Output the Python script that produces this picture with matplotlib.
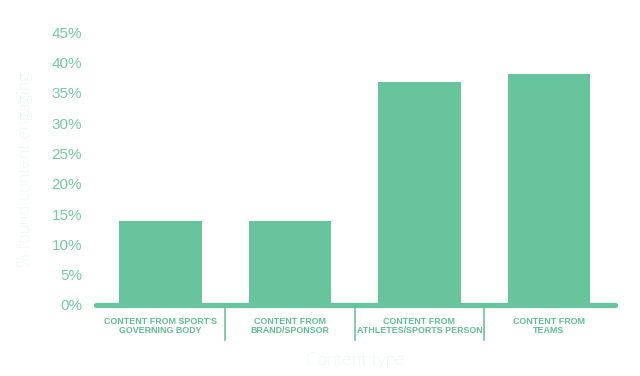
import matplotlib
matplotlib.use("Agg")
import matplotlib.pyplot as plt
import matplotlib.transforms as mtransforms

categories = ["CONTENT FROM SPORT'S\nGOVERNING BODY", "CONTENT FROM\nBRAND/SPONSOR",
              "CONTENT FROM\nATHLETES/SPORTS PERSON", "CONTENT FROM\nTEAMS"]
values = [13.8, 13.8, 36.8, 38.2]
yticks = [0, 5, 10, 15, 20, 25, 30, 35, 40, 45]
ytick_labels = [f"{t}%" for t in yticks]

BAR = "#68c49c"
TICK = "#74caa2"
CAT = "#5fbf93"
LIGHT = "#b2e3cc"

fig = plt.figure(figsize=(6.4, 3.76), dpi=100)
W, H = 640, 376
x0, x1 = 93.2, 617.6
y0, y1 = 305, 32.3
ax = fig.add_axes([x0 / W, (H - y0) / H, (x1 - x0) / W, (y0 - y1) / H])
ax.set_xlim(-0.52, 3.53)
ax.set_ylim(0, 45)

xs = list(range(len(categories)))
ax.bar(xs, values, width=0.64, color=BAR, zorder=2)
ax.plot([-0.5, 3.51], [0, 0], color=BAR, lw=3.8, solid_capstyle="round",
        clip_on=False, zorder=3)

for s in ax.spines.values():
    s.set_visible(False)
ax.set_xticks([])
ax.set_yticks(yticks)
ax.set_yticklabels(ytick_labels, fontfamily="Liberation Sans", fontsize=11, color=TICK)
ax.tick_params(axis="y", length=0, pad=8)

trans = mtransforms.blended_transform_factory(ax.transData, fig.transFigure)
for i, c in enumerate(categories):
    ax.text(i, 1 - 326 / H, c, transform=trans, ha="center", va="center",
            fontsize=6.4, fontweight="bold", fontfamily="Liberation Sans",
            color=CAT, linespacing=0.95)
for b in [0.5, 1.5, 2.5]:
    ax.plot([b, b], [1 - 308 / H, 1 - 340 / H], transform=trans, color=CAT,
            lw=1.1, clip_on=False)

fig.text(x0 / W + (x1 - x0) / W / 2, 1 - 360 / H, "Content type", ha="center",
         va="center", fontsize=12.5, color=LIGHT, fontfamily="Lato", fontweight="light")
fig.text(25 / W, 1 - 170 / H, "% found content engaging", ha="center", va="center",
         rotation=90, fontsize=12.5, color=LIGHT, fontfamily="Lato", fontweight="light")

fig.savefig("out.png", dpi=100)
